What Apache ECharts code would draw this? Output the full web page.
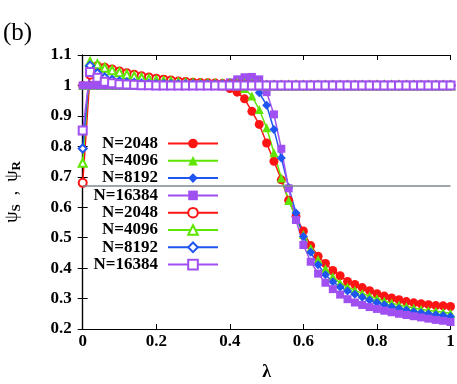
<!DOCTYPE html>
<html>
<head>
<meta charset="utf-8">
<script src="https://cdn.jsdelivr.net/npm/echarts@6/dist/echarts.min.js"></script>
<style>
  html, body { margin: 0; padding: 0; background: #fff; }
  #chart { width: 457px; height: 384px; }
</style>
</head>
<body>
<div id="chart"></div>
<script>
  // lambda values (x)
  const lambda = [0, 0.02, 0.04, 0.06, 0.08, 0.10, 0.12, 0.14, 0.16, 0.18,
    0.20, 0.22, 0.24, 0.26, 0.28, 0.30, 0.32, 0.34, 0.36, 0.38,
    0.40, 0.42, 0.44, 0.46, 0.48, 0.50, 0.52, 0.54, 0.56, 0.58,
    0.60, 0.62, 0.64, 0.66, 0.68, 0.70, 0.72, 0.74, 0.76, 0.78,
    0.80, 0.82, 0.84, 0.86, 0.88, 0.90, 0.92, 0.94, 0.96, 0.98, 1.0];

  // psi_S (filled symbols)
  const psiS2048 = [1, 1, 1, 1, 1, 1, 1, 1, 1, 1,
    1, 1, 1, 1, 1, 1, 1, 1, 1, 0.998,
    0.99, 0.978, 0.956, 0.915, 0.872, 0.811, 0.751, 0.69, 0.623, 0.57,
    0.522, 0.474, 0.439, 0.415, 0.392, 0.375, 0.356, 0.346, 0.336, 0.326,
    0.316, 0.308, 0.302, 0.296, 0.290, 0.286, 0.283, 0.280, 0.277, 0.276, 0.274];
  const psiS4096 = [1, 1, 1, 1, 1, 1, 1, 1, 1, 1,
    1, 1, 1, 1, 1, 1, 1, 1, 1, 1,
    1, 0.998, 0.99, 0.965, 0.921, 0.861, 0.779, 0.696, 0.622, 0.565,
    0.510, 0.465, 0.428, 0.398, 0.372, 0.351, 0.338, 0.327, 0.317, 0.308,
    0.300, 0.292, 0.285, 0.279, 0.274, 0.269, 0.265, 0.261, 0.258, 0.255, 0.252];
  const psiS8192 = [1, 1, 1, 1, 1, 1, 1, 1, 1, 1,
    1, 1, 1, 1, 1, 1, 1, 1, 1.002, 1.005,
    1.01, 1.018, 1.024, 1.01, 0.976, 0.935, 0.855, 0.762, 0.665, 0.581,
    0.504, 0.452, 0.411, 0.378, 0.355, 0.338, 0.325, 0.314, 0.304, 0.295,
    0.287, 0.280, 0.273, 0.267, 0.262, 0.257, 0.253, 0.250, 0.247, 0.244, 0.241];
  const psiS16384 = [1, 1, 1, 1, 1, 1, 1, 1, 1, 1,
    1, 1, 1, 1, 1, 1, 1, 1, 1, 1.004,
    1.01, 1.02, 1.027, 1.028, 1.02, 0.978, 0.905, 0.792, 0.662, 0.558,
    0.476, 0.421, 0.382, 0.352, 0.331, 0.313, 0.298, 0.287, 0.279, 0.272,
    0.266, 0.260, 0.255, 0.250, 0.246, 0.242, 0.238, 0.234, 0.230, 0.227, 0.223];

  // psi_R (open symbols)
  const psiR2048 = [0.68, 1.035, 1.063, 1.058, 1.052, 1.046, 1.040, 1.035, 1.030, 1.026,
    1.022, 1.019, 1.016, 1.013, 1.011, 1.009, 1.008, 1.007, 1.006, 1.005,
    1.004, 1.003, 1.002, 1.001, 1, 1, 1, 1, 1, 1,
    1, 1, 1, 1, 1, 1, 1, 1, 1, 1,
    1, 1, 1, 1, 1, 1, 1, 1, 1, 1, 1];
  const psiR4096 = [0.746, 1.077, 1.070, 1.058, 1.050, 1.043, 1.036, 1.030, 1.025, 1.021,
    1.017, 1.014, 1.012, 1.010, 1.008, 1.007, 1.006, 1.005, 1.005, 1.004,
    1.004, 1.003, 1.003, 1.002, 1.001, 1, 1, 1, 1, 1,
    1, 1, 1, 1, 1, 1, 1, 1, 1, 1,
    1, 1, 1, 1, 1, 1, 1, 1, 1, 1, 1];
  const psiR8192 = [0.793, 1.065, 1.040, 1.026, 1.018, 1.013, 1.010, 1.008, 1.006, 1.005,
    1.004, 1.004, 1.003, 1.003, 1.003, 1.003, 1.002, 1.002, 1.002, 1.002,
    1.002, 1.001, 1.001, 1, 1, 1, 1, 1, 1, 1,
    1, 1, 1, 1, 1, 1, 1, 1, 1, 1,
    1, 1, 1, 1, 1, 1, 1, 1, 1, 1, 1];
  const psiR16384 = [0.852, 1.044, 1.025, 1.012, 1.007, 1.004, 1.003, 1.002, 1.001, 1.001,
    1, 1, 1, 1, 1, 1, 1, 1, 1, 1,
    1, 1, 1, 1, 1, 1, 1, 1, 1, 1,
    1, 1, 1, 1, 1, 1, 1, 1, 1, 1,
    1, 1, 1, 1, 1, 1, 1, 1, 1, 1, 1];

  const xTicks = ['0', '0.2', '0.4', '0.6', '0.8', '1'];
  const thresholdLine = 2 / 3;

  const RED = '#ff1414', GREEN = '#5ee600', BLUE = '#1f55f0', PURPLE = '#a04ff0';
  const FONT = 'Liberation Serif';

  const pairs = (ys) => ys.map((v, i) => [lambda[i], v]);

  const seriesDefs = [
    { name: 'S2048', data: psiS2048, color: RED, symbol: 'circle', size: 9 },
    { name: 'S4096', data: psiS4096, color: GREEN, symbol: 'triangle', size: 9 },
    { name: 'S8192', data: psiS8192, color: BLUE, symbol: 'diamond', size: 9 },
    { name: 'S16384', data: psiS16384, color: PURPLE, symbol: 'rect', size: 8 },
    { name: 'R2048', data: psiR2048, color: RED, symbol: 'emptyCircle', size: 8 },
    { name: 'R4096', data: psiR4096, color: GREEN, symbol: 'emptyTriangle', size: 8 },
    { name: 'R8192', data: psiR8192, color: BLUE, symbol: 'emptyDiamond', size: 8 },
    { name: 'R16384', data: psiR16384, color: PURPLE, symbol: 'emptyRect', size: 8 }
  ];

  const series = seriesDefs.map((d, i) => ({
    name: d.name,
    type: 'line',
    data: pairs(d.data),
    symbol: d.symbol,
    symbolSize: d.size,
    showAllSymbol: true,
    lineStyle: { color: d.color, width: 1.5 },
    itemStyle: { color: d.color },
    emphasis: { disabled: true },
    markLine: i === 0 ? {
      silent: true,
      symbol: 'none',
      label: { show: false },
      lineStyle: { color: '#7f898d', width: 1.5, type: 'solid' },
      data: [{ yAxis: thresholdLine }]
    } : undefined
  }));

  // one legend box per row so that the icons line up on the right
  const legends = seriesDefs.map((d, i) => ({
    data: [d.name],
    orient: 'vertical',
    align: 'right',
    right: 238,
    top: 135 + i * 17.3,
    padding: 0,
    itemWidth: 50,
    itemHeight: 12,
    formatter: (name) => 'N=' + name.slice(1),
    textStyle: { fontFamily: FONT, fontWeight: 'bold', fontSize: 17, color: '#000', padding: [0, 5, 0, 0] },
    selectedMode: false
  }));

  const axisCommon = {
    axisLine: { show: true, lineStyle: { color: '#000', width: 1.2 } },
    axisTick: { show: true, inside: true, length: 5, lineStyle: { color: '#000', width: 1 } },
    splitLine: { show: false }
  };

  const chart = echarts.init(document.getElementById('chart'));
  chart.setOption({
    animation: false,
    backgroundColor: '#fff',
    title: {
      text: '(b)', left: 3, top: 21, padding: 0,
      textStyle: { fontFamily: FONT, fontWeight: 'normal', fontSize: 25, color: '#000' }
    },
    legend: legends,
    grid: { left: 82.7, right: 6.5, top: 55, bottom: 55, outerBoundsMode: 'none' },
    xAxis: [
      Object.assign({
        type: 'value', min: 0, max: 1, interval: 0.2, position: 'bottom',
        name: 'λ', nameLocation: 'middle', nameGap: 34,
        nameTextStyle: { fontFamily: FONT, fontWeight: 'bold', fontSize: 18, color: '#000' },
        axisLabel: {
          margin: 4, fontFamily: FONT, fontWeight: 'bold', fontSize: 17, color: '#000',
          formatter: (v) => xTicks[Math.round(v / 0.2)]
        }
      }, axisCommon),
      Object.assign({
        type: 'value', min: 0, max: 1, interval: 0.2, position: 'top',
        axisLabel: { show: false }
      }, axisCommon)
    ],
    yAxis: [
      Object.assign({
        type: 'value', min: 0.2, max: 1.1, interval: 0.1, position: 'left',
        name: '{a|ψ}{b|S}{a|  ,  ψ}{b|R}', nameLocation: 'middle', nameGap: 60,
        nameTextStyle: {
          color: '#000',
          rich: {
            a: { fontFamily: FONT, fontSize: 18, color: '#000' },
            b: { fontFamily: FONT, fontSize: 13, fontWeight: 'bold', color: '#000', padding: [7, 0, 0, 0] }
          }
        },
        axisLabel: { margin: 11, fontFamily: FONT, fontWeight: 'bold', fontSize: 17, color: '#000' }
      }, axisCommon),
      Object.assign({
        type: 'value', min: 0.2, max: 1.1, interval: 0.1, position: 'right',
        axisLabel: { show: false }
      }, axisCommon)
    ],
    series: series
  });
</script>
</body>
</html>
